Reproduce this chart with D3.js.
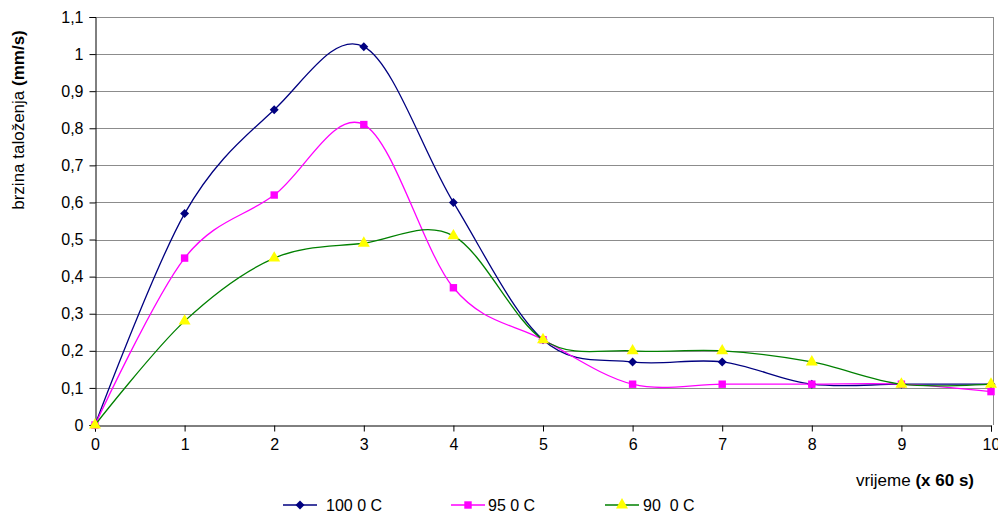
<!DOCTYPE html>
<html>
<head>
<meta charset="utf-8">
<script src="https://cdn.jsdelivr.net/npm/d3@7"></script>
<style>
  body { margin: 0; background: #fff; }
  text { font-family: "Liberation Sans", Arial, sans-serif; }
</style>
</head>
<body>
<div id="chart"></div>
<script>
// Data
const times = [0, 1, 2, 3, 4, 5, 6, 7, 8, 9, 10]
const t100 = [0, 0.57, 0.85, 1.02, 0.60, 0.23, 0.17, 0.17, 0.11, 0.11, 0.11]
const t95 = [0, 0.45, 0.62, 0.81, 0.37, 0.23, 0.11, 0.11, 0.11, 0.11, 0.09]
const t90 = [0, 0.28, 0.45, 0.49, 0.51, 0.23, 0.20, 0.20, 0.17, 0.11, 0.11]
const seriesNames = ['100 0 C', '95 0 C', '90  0 C']
const yTicks = [0, 0.1, 0.2, 0.3, 0.4, 0.5, 0.6, 0.7, 0.8, 0.9, 1, 1.1]

const width = 998, height = 515
const margin = { left: 95, right: 7, top: 17, bottom: 90 }

const svg = d3.select('#chart').append('svg')
  .attr('width', width)
  .attr('height', height)

const x = d3.scaleLinear().domain([0, 10]).range([margin.left, 991])
const y = d3.scaleLinear().domain([0, 1.1]).range([425, margin.top])

const fmt = (d) => String(+d.toFixed(1)).replace('.', ',')

// gridlines
svg.append('g').selectAll('line')
  .data(yTicks.slice(1))
  .enter().append('line')
    .attr('x1', margin.left).attr('x2', 993)
    .attr('y1', (d) => Math.round(y(d)) + 0.5).attr('y2', (d) => Math.round(y(d)) + 0.5)
    .attr('stroke', '#8c8c8c').attr('stroke-width', 1)

// right border
svg.append('line')
  .attr('x1', 993.5).attr('x2', 993.5)
  .attr('y1', y(1.1)).attr('y2', y(0))
  .attr('stroke', '#8c8c8c')

// y axis
const yAxis = d3.axisLeft(y).tickValues(yTicks).tickFormat(fmt).tickSize(6).tickPadding(6)
const gy = svg.append('g').attr('transform', `translate(${margin.left + 0.5},0)`).call(yAxis)
gy.select('.domain').attr('stroke', '#000')
gy.selectAll('text').attr('font-size', 16).attr('fill', '#000')

// x axis
const xAxis = d3.axisBottom(x).tickValues(times).tickSize(6).tickPadding(7)
const gx = svg.append('g').attr('transform', `translate(0,${Math.round(y(0)) + 0.5})`).call(xAxis)
gx.select('.domain').attr('stroke', '#000')
gx.selectAll('text').attr('font-size', 16).attr('fill', '#000')

// axis titles
const yTitle = svg.append('text')
  .attr('transform', 'translate(24,120) rotate(-90)')
  .attr('text-anchor', 'middle')
  .attr('font-size', 17)
yTitle.append('tspan').text('brzina taloženja ')
yTitle.append('tspan').attr('font-weight', 'bold').text('(mm/s)')

const xTitle = svg.append('text')
  .attr('x', 974).attr('y', 486)
  .attr('text-anchor', 'end')
  .attr('font-size', 17)
xTitle.append('tspan').text('vrijeme ')
xTitle.append('tspan').attr('font-weight', 'bold').text('(x 60 s)')

// series
const series = [
  { name: seriesNames[0], values: t100, line: '#000080', fill: '#000080', shape: d3.symbolSquare, size: 40, rot: 45 },
  { name: seriesNames[1], values: t95, line: '#ff00ff', fill: '#ff00ff', shape: d3.symbolSquare, size: 55, rot: 0 },
  { name: seriesNames[2], values: t90, line: '#008000', fill: '#ffff00', shape: d3.symbolTriangle, size: 62, rot: 0 },
]

const line = d3.line()
  .x((d, i) => x(times[i]))
  .y((d) => y(d))
  .curve(d3.curveCardinal.tension(0))

series.forEach((s) => {
  svg.append('path')
    .attr('d', line(s.values))
    .attr('fill', 'none')
    .attr('stroke', s.line)
    .attr('stroke-width', 1.3)
  svg.append('g').selectAll('path')
    .data(s.values)
    .enter().append('path')
      .attr('d', d3.symbol().type(s.shape).size(s.size))
      .attr('transform', (d, i) => `translate(${x(times[i])},${y(d)}) rotate(${s.rot})`)
      .attr('fill', s.fill)
})

// legend
const legendX = [283, 451, 605]
const legendTextX = [43, 37, 38]
const legend = svg.append('g').selectAll('g')
  .data(series)
  .enter().append('g')
    .attr('transform', (d, i) => `translate(${legendX[i]},505)`)
legend.append('line')
  .attr('x1', 0).attr('x2', 34)
  .attr('stroke', (d) => d.line).attr('stroke-width', 1.3)
legend.append('path')
  .attr('d', (d) => d3.symbol().type(d.shape).size(d.size)())
  .attr('transform', (d) => `translate(17,0) rotate(${d.rot})`)
  .attr('fill', (d) => d.fill)
legend.append('text')
  .attr('x', (d, i) => legendTextX[i])
  .attr('y', 6)
  .attr('font-size', 16)
  .style('white-space', 'pre')
  .text((d) => d.name)
</script>
</body>
</html>
